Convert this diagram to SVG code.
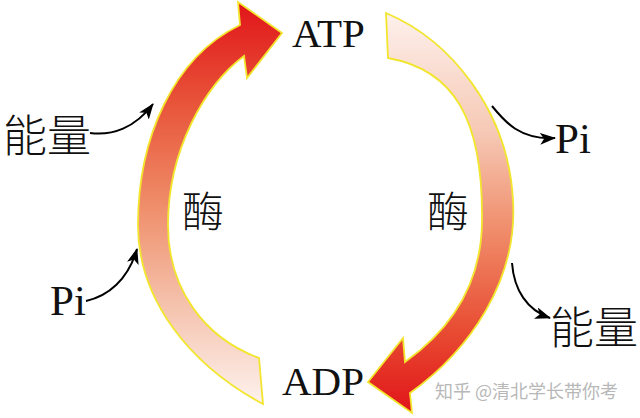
<svg xmlns="http://www.w3.org/2000/svg" width="640" height="418" viewBox="0 0 640 418">
<style>
.big{stroke:#f2e52e;stroke-width:1.8;stroke-linejoin:miter}
.lat{font-family:"Liberation Serif","Times New Roman",serif;fill:#111}
.cjk{font-family:"Noto Sans CJK SC","Noto Sans CJK JP",sans-serif;font-weight:300;fill:#111}
.con{fill:none;stroke:#000;stroke-width:2}
.wm{font-family:"Noto Sans CJK SC",sans-serif;fill:#b8b8b8;font-size:18px}
</style>
<defs>
<linearGradient id="gL" gradientUnits="userSpaceOnUse" x1="0" y1="404" x2="0" y2="5">
<stop offset="0" stop-color="#fdf2ee"/>
<stop offset="0.25" stop-color="#f5c2ac"/>
<stop offset="0.5" stop-color="#ef8d69"/>
<stop offset="0.75" stop-color="#e8553a"/>
<stop offset="1" stop-color="#e1161a"/>
</linearGradient>
<linearGradient id="gR" gradientUnits="userSpaceOnUse" x1="0" y1="13" x2="0" y2="410">
<stop offset="0" stop-color="#fdf0ec"/>
<stop offset="0.3" stop-color="#f6c9b5"/>
<stop offset="0.55" stop-color="#f08c6a"/>
<stop offset="0.8" stop-color="#e84c32"/>
<stop offset="1" stop-color="#e1161a"/>
</linearGradient>
<marker id="ah" viewBox="0 0 16 12" refX="15" refY="6" markerWidth="16" markerHeight="12" markerUnits="userSpaceOnUse" orient="auto">
<path d="M0,0 L16,6 L0,12 L4,6 Z" fill="#000"/>
</marker>
</defs>
<g id="arrow-left">
<path class="big" fill="url(#gL)" d="M263,404 C190,365 138,300 138,225 C138,140 172,58 240,25 L238,2 L282,33 L247,78 L244,56 C205,85 168,150 168,225 C168,290 205,338 259,358 Z"/>
</g>
<g id="arrow-right">
<path class="big" fill="url(#gR)" d="M386,13 C450,40 508,110 513,200 C518,280 470,350 410,393 L412,413 L368,382 L403,338 L405,362 C450,330 482,285 482,220 C483,120 455,70 388,58 Z"/>
</g>
<g id="node-ATP"><text class="lat" x="292" y="47" font-size="41">ATP</text></g>
<g id="node-ADP"><text class="lat" x="282" y="395" font-size="41">ADP</text></g>
<g id="label-enzyme-left"><text class="cjk" x="182" y="227" font-size="42">酶</text></g>
<g id="label-enzyme-right"><text class="cjk" x="427" y="227" font-size="42">酶</text></g>
<g id="label-energy-in"><text class="cjk" x="3" y="152" font-size="44">能量</text></g>
<g id="label-pi-in"><text class="lat" x="50" y="315" font-size="43">Pi</text></g>
<g id="label-pi-out"><text class="lat" x="555" y="153" font-size="43">Pi</text></g>
<g id="label-energy-out"><text class="cjk" x="550" y="344" font-size="44">能量</text></g>
<g id="connectors">
<path class="con" marker-end="url(#ah)" d="M90,133 C112,136 135,128 153,104"/>
<path class="con" marker-end="url(#ah)" d="M86,301 C108,296 128,280 137,249"/>
<path class="con" marker-end="url(#ah)" d="M492,106 C505,122 520,140 555,138"/>
<path class="con" marker-end="url(#ah)" d="M512,263 C514,290 527,310 550,318"/>
</g>
<text class="wm" x="435" y="398">知乎 @清北学长带你考</text>
</svg>
